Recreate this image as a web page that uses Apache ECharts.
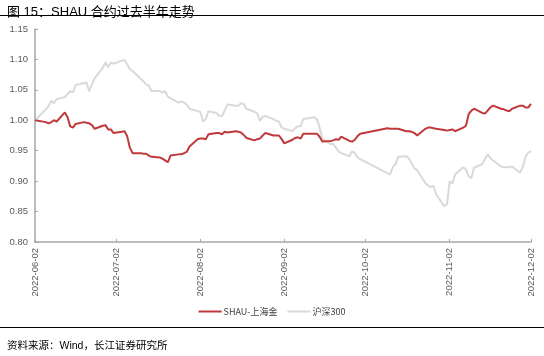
<!DOCTYPE html>
<html><head><meta charset="utf-8">
<script src="https://cdn.jsdelivr.net/npm/echarts@6/dist/echarts.min.js"></script>
<style>html,body{margin:0;padding:0;background:#fff}#c{width:544px;height:356px}</style>
</head><body><div id="c"></div>
<script>
const titleText = '图 15：SHAU 合约过去半年走势';
const sourceText = '资料来源：Wind，长江证券研究所';
const seriesNames = ['SHAU-上海金', '沪深300'];
const startDate = '2022-06-02';
const endDate = '2022-12-02';
const yMin = 0.80, yMax = 1.15, yStep = 0.05;

const tradeDates = [
 '06-02','06-06','06-07','06-08','06-09','06-10','06-13','06-14','06-15','06-16','06-17','06-20','06-21','06-22','06-23','06-24','06-27','06-28','06-29','06-30',
 '07-01','07-04','07-05','07-06','07-07','07-08','07-11','07-12','07-13','07-14','07-15','07-18','07-19','07-20','07-21','07-22','07-25','07-26','07-27','07-28','07-29',
 '08-01','08-02','08-03','08-04','08-05','08-08','08-09','08-10','08-11','08-12','08-15','08-16','08-17','08-18','08-19','08-22','08-23','08-24','08-25','08-26','08-29','08-30','08-31',
 '09-01','09-02','09-05','09-06','09-07','09-08','09-09','09-13','09-14','09-15','09-16','09-19','09-20','09-21','09-22','09-23','09-26','09-27','09-28','09-29','09-30',
 '10-10','10-11','10-12','10-13','10-14','10-17','10-18','10-19','10-20','10-21','10-24','10-25','10-26','10-27','10-28','10-31',
 '11-01','11-02','11-03','11-04','11-07','11-08','11-09','11-10','11-11','11-14','11-15','11-16','11-17','11-18','11-21','11-22','11-23','11-24','11-25','11-28','11-29','11-30',
 '12-01','12-02'
].map(d => '2022-' + d);

const shauValues = [
 1.000,0.997,0.995,0.997,1.000,0.998,1.013,1.005,0.990,0.988,0.994,0.997,0.996,0.995,0.992,0.986,0.991,0.992,0.985,0.985,
 0.979,0.981,0.982,0.974,0.955,0.946,0.946,0.945,0.945,0.942,0.940,0.939,0.937,0.934,0.931,0.942,0.944,0.944,0.946,0.948,0.957,
 0.969,0.970,0.970,0.969,0.977,0.979,0.979,0.977,0.981,0.980,0.982,0.981,0.980,0.976,0.971,0.967,0.969,0.970,0.975,0.979,0.975,0.975,0.975,
 0.969,0.962,0.968,0.971,0.972,0.970,0.978,0.978,0.978,0.973,0.965,0.966,0.967,0.969,0.968,0.973,0.966,0.965,0.968,0.974,0.978,
 0.987,0.986,0.986,0.986,0.986,0.982,0.982,0.981,0.979,0.975,0.986,0.988,0.988,0.987,0.986,0.984,
 0.983,0.984,0.985,0.982,0.988,0.991,1.010,1.016,1.019,1.012,1.011,1.016,1.021,1.024,1.019,1.018,1.016,1.015,1.019,1.024,1.024,1.021,
 1.021,1.027
];

const csi300Values = [
 1.000,1.018,1.023,1.032,1.028,1.035,1.038,1.043,1.048,1.046,1.058,1.061,1.062,1.048,1.059,1.069,1.086,1.095,1.087,1.095,
 1.093,1.098,1.099,1.092,1.084,1.081,1.068,1.064,1.059,1.057,1.048,1.048,1.046,1.048,1.039,1.036,1.029,1.031,1.029,1.026,1.019,
 1.015,1.014,0.998,1.002,1.015,1.012,1.007,1.007,1.016,1.026,1.024,1.024,1.028,1.027,1.019,1.014,1.011,0.999,1.006,1.007,1.002,0.999,0.998,
 0.988,0.986,0.982,0.987,0.990,0.990,1.002,1.005,1.002,0.988,0.970,0.961,0.961,0.955,0.949,0.946,0.941,0.949,0.946,0.939,0.936,
 0.913,0.911,0.923,0.928,0.940,0.941,0.937,0.929,0.921,0.918,0.897,0.893,0.890,0.892,0.878,0.859,
 0.862,0.900,0.896,0.911,0.923,0.919,0.908,0.905,0.922,0.928,0.936,0.944,0.938,0.934,0.924,0.923,0.923,0.923,0.924,0.914,0.924,0.940,
 0.947,0.949
];

// calendar-day category axis
const calendar = [];
{
  const s = Date.UTC(2022, 5, 2), e = Date.UTC(2022, 11, 2);
  for (let t = s; t <= e; t += 86400000) calendar.push(new Date(t).toISOString().slice(0, 10));
}
const showTick = (i, v) => v.slice(8) === '02';

const chart = echarts.init(document.getElementById('c'), null, {renderer: 'canvas'});
const fontCN = 'Liberation Sans, Arial, Noto Sans CJK SC, sans-serif';
chart.setOption({
  animation: false,
  backgroundColor: '#fff',
  title: [
    {text: titleText, left: 2, top: 1, textStyle: {fontSize: 13, fontWeight: 'normal', color: '#000', fontFamily: fontCN}},
    {text: sourceText, left: 2, top: 336, textStyle: {fontSize: 10.5, fontWeight: 'normal', color: '#000', fontFamily: fontCN}}
  ],
  graphic: [
    {type: 'line', shape: {x1: 0, y1: 15.5, x2: 544, y2: 15.5}, style: {stroke: '#000', lineWidth: 1.2}},
    {type: 'line', shape: {x1: 0, y1: 327.5, x2: 544, y2: 327.5}, style: {stroke: '#000', lineWidth: 1.2}}
  ],
  legend: {
    top: 302, left: 'center',
    icon: 'rect', itemWidth: 23, itemHeight: 2, itemGap: 10,
    textStyle: {fontSize: 9, color: '#404040', fontFamily: 'Noto Sans CJK SC, sans-serif', padding: [0, 0, 0, -3]},
    data: seriesNames
  },
  grid: {left: 35, right: 13, top: 29, bottom: 114, containLabel: false},
  xAxis: {
    type: 'category', data: calendar, boundaryGap: false,
    axisLine: {lineStyle: {color: '#a6a6a6', width: 1.5}},
    axisTick: {inside: true, length: 3, interval: showTick, lineStyle: {color: '#a6a6a6'}},
    axisLabel: {interval: showTick, rotate: 90, margin: 6, fontSize: 9.5, color: '#595959', fontFamily: 'Liberation Sans, Arial, sans-serif'},
    splitLine: {show: false}
  },
  yAxis: {
    type: 'value', min: yMin, max: yMax, interval: yStep,
    axisLine: {show: true, lineStyle: {color: '#a6a6a6', width: 1.5}},
    axisTick: {show: true, inside: true, length: 3, lineStyle: {color: '#a6a6a6'}},
    axisLabel: {margin: 7, fontSize: 9.5, color: '#595959', fontFamily: 'Liberation Sans, Arial, sans-serif', formatter: v => v.toFixed(2)},
    splitLine: {show: false}
  },
  series: [
    {name: seriesNames[0], type: 'line', data: tradeDates.map((d, i) => [d, shauValues[i]]), showSymbol: false, symbol: 'none',
     lineStyle: {color: '#c0393b', width: 2}, itemStyle: {color: '#c0393b'}, z: 3},
    {name: seriesNames[1], type: 'line', data: tradeDates.map((d, i) => [d, csi300Values[i]]), showSymbol: false, symbol: 'none',
     lineStyle: {color: '#d9d9d9', width: 2}, itemStyle: {color: '#d9d9d9'}, z: 2}
  ]
});
</script></body></html>
